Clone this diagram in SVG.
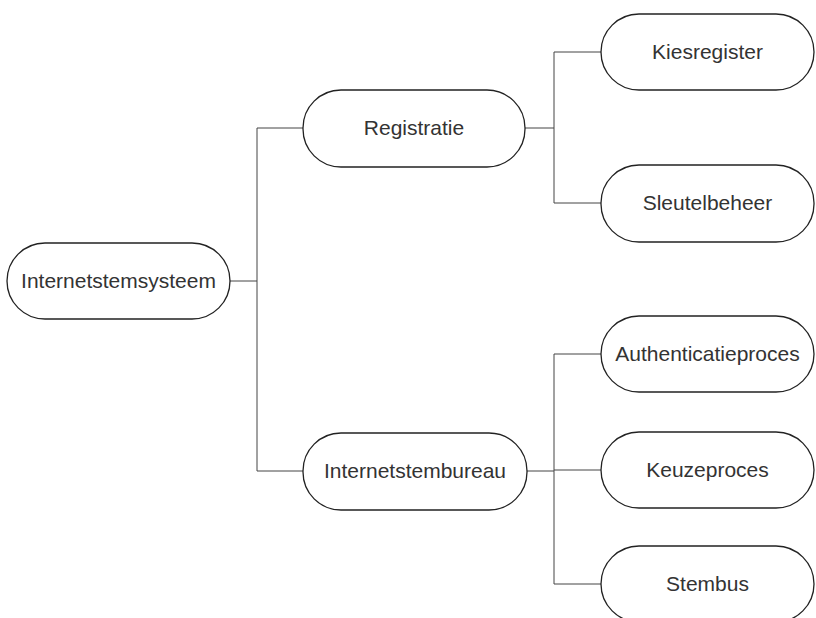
<svg xmlns="http://www.w3.org/2000/svg" width="816" height="618" viewBox="0 0 816 618">
<style>
.node rect{fill:#fff;stroke:#222;stroke-width:1.3}
.node text{font-family:"Liberation Sans",Arial,sans-serif;font-size:21px;fill:#333;text-anchor:middle}
#connectors path{fill:none;stroke:#444;stroke-width:1}
</style>
<rect width="816" height="618" fill="#fff"/>
<g id="connectors">
<path d="M230 281H257M257 128V471"/>
<path d="M257 128H303M257 471H303"/>
<path d="M525 128H554M554 52V203M554 52H601M554 203H601"/>
<path d="M527 471H554M554 354V584M554 354H601M554 470H601M554 584H601"/>
</g>
<g id="n-root" class="node"><rect x="7" y="243" width="223" height="76" rx="38"/><text x="118.5" y="288">Internetstemsysteem</text></g>
<g id="n-registratie" class="node"><rect x="303" y="90" width="222" height="77" rx="38"/><text x="414" y="135">Registratie</text></g>
<g id="n-bureau" class="node"><rect x="303" y="433" width="224" height="77" rx="38"/><text x="415" y="478">Internetstembureau</text></g>
<g id="n-kies" class="node"><rect x="601" y="14" width="213" height="76" rx="38"/><text x="707.5" y="59">Kiesregister</text></g>
<g id="n-sleutel" class="node"><rect x="601" y="165" width="213" height="77" rx="38"/><text x="707.5" y="210">Sleutelbeheer</text></g>
<g id="n-auth" class="node"><rect x="601" y="316" width="213" height="76" rx="38"/><text x="707.5" y="361">Authenticatieproces</text></g>
<g id="n-keuze" class="node"><rect x="601" y="432" width="213" height="76" rx="38"/><text x="707.5" y="477">Keuzeproces</text></g>
<g id="n-stembus" class="node"><rect x="601" y="546" width="213" height="76" rx="38"/><text x="707.5" y="591">Stembus</text></g>
</svg>
